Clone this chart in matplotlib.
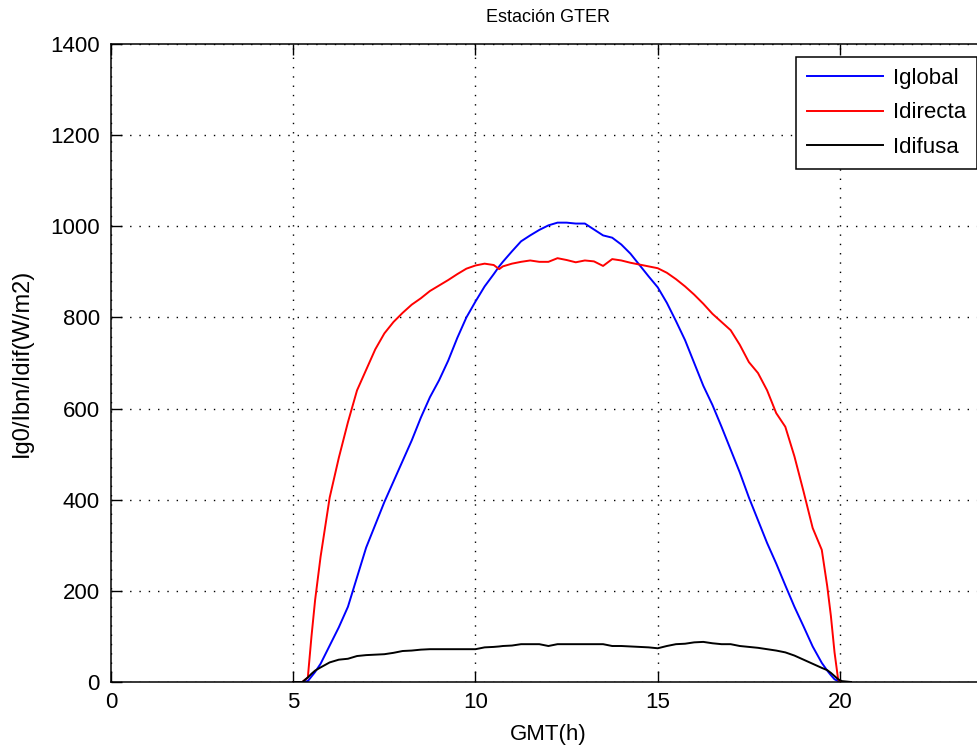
"""
Estación GTER — global / direct / diffuse irradiance over one day (GMT).
Saves out.png (978x749).
"""

import matplotlib
matplotlib.use("Agg")
import matplotlib.pyplot as plt

# ---------------------------------------------------------------------------
# Data
# ---------------------------------------------------------------------------
hours = [
    5.0, 5.25, 5.4, 5.5, 5.6, 5.75, 6.0, 6.25, 6.5, 6.75,
    7.0, 7.25, 7.5, 7.75, 8.0, 8.25, 8.5, 8.75, 9.0, 9.25,
    9.5, 9.75, 10.0, 10.25, 10.5, 10.65, 10.75, 11.0, 11.25, 11.5,
    11.75, 12.0, 12.25, 12.5, 12.75, 13.0, 13.25, 13.5, 13.75, 14.0,
    14.25, 14.5, 14.75, 15.0, 15.25, 15.5, 15.75, 16.0, 16.25, 16.5,
    16.75, 17.0, 17.25, 17.5, 17.75, 18.0, 18.25, 18.5, 18.75, 19.0,
    19.25, 19.5, 19.65, 19.75, 19.85, 19.95, 20.05, 20.3,
]

i_global = [
    0, 0, 2, 12, 22, 40, 80, 120, 165, 230,
    295, 345, 395, 440, 485, 530, 580, 625, 662, 705,
    755, 800, 835, 868, 895, 912, 922, 945, 967, 980,
    992, 1002, 1008, 1008, 1006, 1006, 993, 980, 975, 960,
    940, 915, 890, 866, 832, 792, 750, 700, 650, 608,
    560, 510, 460, 405, 355, 305, 260, 212, 165, 122,
    78, 42, 25, 15, 6, 2, 0, 0,
]

i_directa = [
    0, 0, 10, 100, 180, 275, 405, 492, 570, 640,
    685, 730, 765, 790, 810, 828, 842, 858, 870, 882,
    895, 907, 914, 918, 915, 906, 912, 918, 922, 925,
    922, 922, 930, 926, 921, 925, 923, 913, 928, 925,
    920, 916, 912, 908, 898, 884, 868, 850, 830, 808,
    790, 772, 740, 702, 678, 640, 590, 560, 495, 418,
    338, 290, 210, 145, 65, 5, 0, 0,
]

i_difusa = [
    0, 0, 10, 18, 25, 32, 43, 49, 51, 57,
    59, 60, 61, 64, 68, 69, 71, 72, 72, 72,
    72, 72, 72, 76, 77, 78, 79, 80, 83, 83,
    83, 79, 83, 83, 83, 83, 83, 83, 79, 79,
    78, 77, 76, 74, 79, 83, 84, 87, 88, 85,
    83, 83, 79, 77, 75, 72, 69, 65, 58, 49,
    40, 31, 26, 20, 13, 6, 2, 0,
]

series_labels = ["Iglobal", "Idirecta", "Idifusa"]
series_colors = ["#0000ff", "#ff0000", "#000000"]

x_ticks = [0, 5, 10, 15, 20]
y_ticks = [0, 200, 400, 600, 800, 1000, 1200, 1400]

# ---------------------------------------------------------------------------
# Figure
# ---------------------------------------------------------------------------
plt.rcParams["font.family"] = ["Liberation Sans", "DejaVu Sans"]

W, H = 978, 749
fig = plt.figure(figsize=(W / 100, H / 100), dpi=100)

# axes box in pixels: left 111, top 44, bottom 682, x unit = 36.45 px
# (the right edge runs just past the image, as in the cropped original)
ax_left, ax_top, ax_bottom = 111, 44, 682
ax_width = 24 * 36.45
ax = fig.add_axes([
    ax_left / W,
    (H - ax_bottom) / H,
    ax_width / W,
    (ax_bottom - ax_top) / H,
])

for vals, label, color in zip([i_global, i_directa, i_difusa], series_labels, series_colors):
    ax.plot(hours, vals, color=color, lw=1.4, label=label)

ax.set_xlim(0, 24)
ax.set_ylim(0, 1400)
ax.set_xticks(x_ticks)
ax.set_yticks(y_ticks)
ax.tick_params(direction="in", length=8, width=1, labelsize=16,
               top=True, right=False)
ax.tick_params(axis="x", pad=7)
ax.tick_params(axis="y", pad=8)

ax.grid(True, color="black", linestyle=(0, (1, 5.7)), linewidth=1.0)
for side in ("left", "bottom", "top"):
    ax.spines[side].set_linewidth(1.1)
ax.spines["right"].set_visible(False)

ax.set_xlabel("GMT(h)", fontsize=16, labelpad=8)
ax.set_ylabel("Ig0/Ibn/Idif(W/m2)", fontsize=17)
ax.yaxis.set_label_coords(-(111 - 33) / ax_width, 0.5)

fig.text(548 / W, 1 - 18 / H, "Estación GTER", ha="center", va="center", fontsize=13)

leg = ax.legend(loc="upper right", bbox_to_anchor=(977 / W, 1 - 57 / H),
                bbox_transform=fig.transFigure, fontsize=16, fancybox=False,
                framealpha=1, edgecolor="black", borderaxespad=0,
                handlelength=3.4, handletextpad=0.45, labelspacing=0.6,
                borderpad=0.5)
leg.get_frame().set_linewidth(1.1)

fig.savefig("out.png", dpi=100)
